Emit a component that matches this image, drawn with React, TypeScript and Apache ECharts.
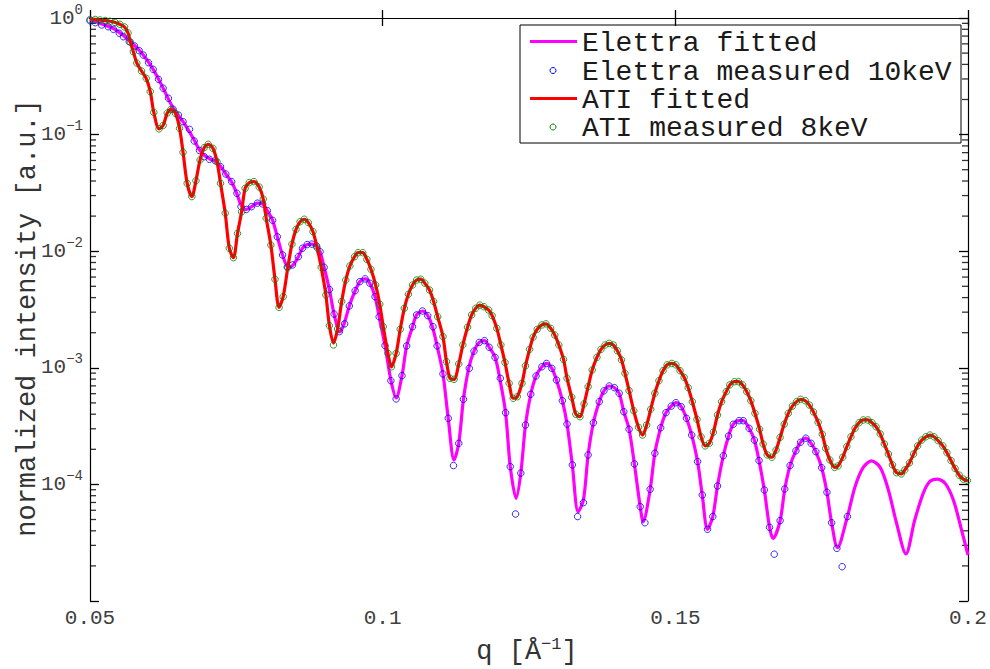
import React, { useEffect, useRef } from "react";
import * as echarts from "echarts";

const xTickValues = [0.05, 0.1, 0.15, 0.2];
const decadeExponents = [-5, -4, -3, -2, -1, 0];
const minorMantissas = [2, 3, 4, 5, 6, 7, 8, 9];
const legendLabels = ["Elettra fitted", "Elettra measured 10keV", "ATI fitted", "ATI measured 8keV"];
const yTitle = "normalized intensity [a.u.]";

const elettraFitted: number[][] = [
  [0.05, 0.971], [0.052, 0.888], [0.054, 0.813], [0.0557, 0.708], [0.0576, 0.582], [0.0591, 0.481], [0.0608, 0.363], [0.0625, 0.25], [0.0642, 0.169], [0.0659, 0.129],
  [0.0678, 0.0899], [0.0687, 0.0738], [0.0696, 0.0657], [0.0705, 0.0618], [0.0714, 0.0594], [0.0724, 0.0528], [0.0732, 0.0459], [0.0742, 0.0392], [0.0751, 0.031], [0.0758, 0.025],
  [0.0767, 0.0228], [0.0776, 0.0241], [0.0786, 0.0258], [0.0795, 0.0254], [0.0803, 0.0223], [0.0812, 0.0184], [0.082, 0.0133], [0.0829, 0.00928], [0.0839, 0.00725], [0.0847, 0.00762],
  [0.0856, 0.00897], [0.0863, 0.0106], [0.0871, 0.0114], [0.0879, 0.0115], [0.0887, 0.0111], [0.0893, 0.0099], [0.09, 0.00728], [0.0909, 0.0047], [0.0917, 0.00289], [0.0927, 0.00203],
  [0.0934, 0.00238], [0.0943, 0.00339], [0.0953, 0.00458], [0.0961, 0.00548], [0.097, 0.00579], [0.0978, 0.00532], [0.0987, 0.00407], [0.0994, 0.00274], [0.1004, 0.00155], [0.1014, 0.000785],
  [0.1023, 0.000551], [0.1033, 0.000856], [0.1041, 0.00154], [0.1051, 0.00225], [0.1058, 0.00284], [0.1068, 0.00307], [0.1077, 0.0028], [0.1085, 0.00225], [0.1093, 0.00154], [0.1103, 0.000886],
  [0.1112, 0.000369], [0.1122, 0.000162], [0.113, 0.000225], [0.1138, 0.000537], [0.1147, 0.00099], [0.1156, 0.00139], [0.1165, 0.00165], [0.1174, 0.00171], [0.1182, 0.0015], [0.1192, 0.00123],
  [0.12, 0.000813], [0.121, 0.000412], [0.1218, 0.000142], [0.1228, 0.000076], [0.1236, 0.000125], [0.1244, 0.000323], [0.1253, 0.000593], [0.1262, 0.00085], [0.1272, 0.00102], [0.128, 0.00109],
  [0.1289, 0.00099], [0.1297, 0.000785], [0.1307, 0.000522], [0.1315, 0.000329], [0.1324, 0.000147], [0.1334, 0.0000583], [0.1343, 0.0000735], [0.1351, 0.000179], [0.136, 0.000338], [0.137, 0.000512],
  [0.1378, 0.000634], [0.1387, 0.000698], [0.1396, 0.000675], [0.1404, 0.000605], [0.1412, 0.00042], [0.1421, 0.000297], [0.143, 0.00015], [0.144, 0.0000644], [0.1445, 0.0000478], [0.1457, 0.0000908],
  [0.1465, 0.000185], [0.1475, 0.000306], [0.1484, 0.000412], [0.1493, 0.000469], [0.1501, 0.000502], [0.151, 0.000464], [0.1519, 0.000369], [0.1528, 0.000265], [0.1538, 0.000157], [0.1546, 0.0000811],
  [0.1555, 0.0000412], [0.1564, 0.000053], [0.1572, 0.0000969], [0.1582, 0.000176], [0.1591, 0.00026], [0.1599, 0.000328], [0.1609, 0.000352], [0.1616, 0.000352], [0.1626, 0.000303], [0.1635, 0.00024],
  [0.1643, 0.00016], [0.1652, 0.0000896], [0.1661, 0.0000428], [0.1667, 0.0000344], [0.1679, 0.0000489], [0.1687, 0.0000913], [0.1696, 0.000145], [0.1706, 0.000194], [0.1714, 0.00023], [0.1723, 0.000249],
  [0.1732, 0.000225], [0.174, 0.000191], [0.175, 0.000139], [0.1759, 0.0000856], [0.1767, 0.0000469], [0.1777, 0.0000287], [0.1794, 0.000053], [0.1807, 0.0000955], [0.1821, 0.00014], [0.1835, 0.000159],
  [0.185, 0.00014], [0.1864, 0.0000896], [0.1878, 0.0000464], [0.1894, 0.0000253], [0.1909, 0.0000495], [0.1924, 0.0000849], [0.1935, 0.000106], [0.1948, 0.000111], [0.1961, 0.000102], [0.1975, 0.0000735],
  [0.1989, 0.0000406], [0.2, 0.0000248],
];

const elettraMeasured: number[][] = [
  [0.05, 0.948], [0.0509, 0.912], [0.052, 0.871], [0.0531, 0.842], [0.054, 0.8], [0.055, 0.74], [0.0557, 0.691], [0.0567, 0.627], [0.0576, 0.576], [0.0584, 0.525],
  [0.0591, 0.481], [0.06, 0.414], [0.0608, 0.363], [0.0617, 0.298], [0.0625, 0.25], [0.0634, 0.205], [0.0642, 0.165], [0.0651, 0.147], [0.0659, 0.129], [0.067, 0.111],
  [0.0678, 0.0882], [0.0687, 0.0731], [0.0695, 0.0647], [0.0704, 0.0614], [0.0714, 0.0597], [0.0723, 0.0531], [0.0732, 0.0459], [0.0742, 0.0395], [0.0751, 0.0314], [0.0758, 0.0241],
  [0.0767, 0.0228], [0.0776, 0.0241], [0.0786, 0.0258], [0.0795, 0.0254], [0.0803, 0.0223], [0.0812, 0.0184], [0.082, 0.0133], [0.0829, 0.00928], [0.0837, 0.00728], [0.0846, 0.00762],
  [0.0856, 0.00897], [0.0863, 0.0106], [0.0871, 0.0114], [0.0879, 0.0115], [0.0887, 0.0111], [0.0893, 0.0099], [0.09, 0.00728], [0.0909, 0.0047], [0.0917, 0.00289], [0.0926, 0.00204],
  [0.0935, 0.00238], [0.0943, 0.00339], [0.0953, 0.00458], [0.0961, 0.00548], [0.097, 0.00579], [0.0978, 0.00532], [0.0987, 0.00407], [0.0994, 0.00274], [0.1004, 0.00155], [0.1014, 0.000775],
  [0.1023, 0.000541], [0.1033, 0.000856], [0.1041, 0.00154], [0.1051, 0.00225], [0.1058, 0.00284], [0.1068, 0.00307], [0.1077, 0.0028], [0.1086, 0.00225], [0.1093, 0.00154], [0.1103, 0.000886],
  [0.1112, 0.000369], [0.1121, 0.000145], [0.113, 0.000225], [0.1138, 0.000537], [0.1148, 0.00099], [0.1156, 0.00139], [0.1165, 0.00165], [0.1174, 0.00171], [0.1182, 0.0015], [0.1192, 0.00123],
  [0.1201, 0.000813], [0.121, 0.000412], [0.1218, 0.000142], [0.1227, 0.0000557], [0.1236, 0.000125], [0.1244, 0.000323], [0.1253, 0.000593], [0.1262, 0.00085], [0.1272, 0.00102], [0.128, 0.00109],
  [0.1289, 0.00099], [0.1297, 0.000785], [0.1307, 0.000522], [0.1315, 0.000329], [0.1324, 0.000147], [0.1333, 0.000053], [0.1343, 0.0000697], [0.1351, 0.000179], [0.136, 0.000338], [0.137, 0.000512],
  [0.1378, 0.000634], [0.1387, 0.000698], [0.1396, 0.000675], [0.1404, 0.000605], [0.1412, 0.00042], [0.1421, 0.000297], [0.143, 0.00015], [0.144, 0.0000644], [0.1448, 0.0000469], [0.1457, 0.0000908],
  [0.1465, 0.000185], [0.1475, 0.000306], [0.1484, 0.000412], [0.1493, 0.000469], [0.1501, 0.000502], [0.151, 0.000464], [0.1519, 0.000369], [0.1528, 0.000265], [0.1538, 0.000157], [0.1546, 0.0000811],
  [0.1555, 0.0000412], [0.1564, 0.000053], [0.1572, 0.0000969], [0.1582, 0.000176], [0.1591, 0.00026], [0.1599, 0.000328], [0.1609, 0.000352], [0.1616, 0.000352], [0.1626, 0.000303], [0.1635, 0.00024],
  [0.1643, 0.00016], [0.1652, 0.0000896], [0.1661, 0.0000428], [0.1669, 0.0000252], [0.1679, 0.0000489], [0.1687, 0.0000913], [0.1696, 0.000145], [0.1706, 0.000194], [0.1714, 0.00023], [0.1723, 0.000249],
  [0.1732, 0.000225], [0.174, 0.000191], [0.175, 0.000139], [0.1759, 0.0000856], [0.1767, 0.0000469], [0.1776, 0.0000283], [0.1785, 0.0000197], [0.1794, 0.000053],
];

const atiFitted: number[][] = [
  [0.05, 0.985], [0.0517, 0.961], [0.0534, 0.937], [0.0543, 0.915], [0.0551, 0.883], [0.0559, 0.837], [0.0565, 0.744], [0.0569, 0.623], [0.0574, 0.514], [0.058, 0.411],
  [0.0588, 0.351], [0.0596, 0.304], [0.0603, 0.234], [0.0609, 0.155], [0.0618, 0.112], [0.0625, 0.12], [0.0632, 0.153], [0.0638, 0.164], [0.0646, 0.152], [0.0653, 0.113],
  [0.0659, 0.0705], [0.0666, 0.0382], [0.0674, 0.0294], [0.0681, 0.0402], [0.0688, 0.0606], [0.0695, 0.0772], [0.0702, 0.0826], [0.071, 0.0763], [0.0717, 0.0586], [0.0723, 0.0382],
  [0.0731, 0.0212], [0.0738, 0.0106], [0.0745, 0.0088], [0.0752, 0.0142], [0.0759, 0.0218], [0.0765, 0.0346], [0.0772, 0.0387], [0.078, 0.0395], [0.0789, 0.0355], [0.0796, 0.028],
  [0.0801, 0.0192], [0.0809, 0.0113], [0.0816, 0.00575], [0.0823, 0.0033], [0.083, 0.00407], [0.0838, 0.00728], [0.0845, 0.0115], [0.0852, 0.0154], [0.0859, 0.0179], [0.0866, 0.0188],
  [0.0873, 0.0176], [0.0881, 0.0147], [0.0888, 0.0107], [0.0895, 0.00728], [0.0903, 0.00421], [0.0909, 0.0023], [0.0916, 0.00163], [0.0923, 0.00215], [0.093, 0.00371], [0.0937, 0.00566],
  [0.0944, 0.00747], [0.0952, 0.00897], [0.0958, 0.00971], [0.0966, 0.00971], [0.0973, 0.00852], [0.098, 0.007], [0.0988, 0.00513], [0.0995, 0.00351], [0.1001, 0.00225], [0.1009, 0.00133],
  [0.1015, 0.00102], [0.1023, 0.00133], [0.103, 0.00214], [0.1037, 0.00324], [0.1044, 0.00427], [0.1051, 0.00513], [0.1058, 0.00566], [0.1065, 0.00575], [0.1072, 0.00532], [0.108, 0.00465],
  [0.1087, 0.00371], [0.1094, 0.00274], [0.1103, 0.00185], [0.1109, 0.00113], [0.1115, 0.000813], [0.1122, 0.000797], [0.113, 0.00108], [0.1137, 0.00157], [0.1145, 0.00223], [0.1152, 0.00284],
  [0.1159, 0.00324], [0.1166, 0.00345], [0.1173, 0.00334], [0.1181, 0.00313], [0.1187, 0.0028], [0.1195, 0.00218], [0.1202, 0.00157], [0.1209, 0.00111], [0.1216, 0.000737], [0.1223, 0.000548],
  [0.123, 0.000565], [0.1238, 0.000737], [0.1244, 0.00104], [0.1251, 0.00144], [0.1257, 0.00183], [0.1264, 0.00214], [0.1272, 0.00233], [0.1279, 0.00238], [0.1287, 0.00218], [0.1294, 0.00191],
  [0.1301, 0.00157], [0.1309, 0.00118], [0.1315, 0.000813], [0.1323, 0.000559], [0.133, 0.0004], [0.1337, 0.000381], [0.1344, 0.00049], [0.1351, 0.000689], [0.1358, 0.000957], [0.1366, 0.00123],
  [0.1373, 0.00144], [0.138, 0.00157], [0.1387, 0.00162], [0.1394, 0.00157], [0.1401, 0.0014], [0.1408, 0.00117], [0.1414, 0.000897], [0.1421, 0.000637], [0.1429, 0.000428], [0.1437, 0.000309],
  [0.1444, 0.000265], [0.1451, 0.000323], [0.1458, 0.000441], [0.1465, 0.000605], [0.1472, 0.000775], [0.1479, 0.000944], [0.1486, 0.00106], [0.1494, 0.00109], [0.1501, 0.00106], [0.1508, 0.000944],
  [0.1515, 0.000829], [0.1522, 0.000675], [0.1529, 0.000512], [0.1537, 0.000362], [0.1544, 0.000256], [0.1551, 0.000214], [0.1558, 0.000225], [0.1565, 0.00028], [0.1572, 0.000394], [0.1579, 0.000512],
  [0.1587, 0.000624], [0.1593, 0.000713], [0.1601, 0.00076], [0.1608, 0.00076], [0.1615, 0.000713], [0.1622, 0.000624], [0.1629, 0.000522], [0.1636, 0.000407], [0.1644, 0.000297], [0.165, 0.000222],
  [0.1657, 0.000179], [0.1665, 0.000171], [0.1672, 0.000197], [0.1679, 0.000253], [0.1686, 0.000329], [0.1693, 0.000407], [0.17, 0.000469], [0.1707, 0.000512], [0.1714, 0.000537], [0.1722, 0.000522],
  [0.1729, 0.000479], [0.1736, 0.000418], [0.1744, 0.000341], [0.1751, 0.000269], [0.1757, 0.000204], [0.1764, 0.000162], [0.1772, 0.00014], [0.1778, 0.000144], [0.1786, 0.000171], [0.1793, 0.000211],
  [0.18, 0.000256], [0.1807, 0.000303], [0.1814, 0.000338], [0.1821, 0.000357], [0.1829, 0.000357], [0.1836, 0.000338], [0.1843, 0.000312], [0.185, 0.000271], [0.1857, 0.000222], [0.1864, 0.000182],
  [0.1871, 0.000147], [0.1878, 0.000126], [0.1886, 0.000123], [0.1892, 0.000133], [0.19, 0.000153], [0.1907, 0.000182], [0.1914, 0.000214], [0.1921, 0.00024], [0.1928, 0.000256], [0.1935, 0.000265],
  [0.1942, 0.000256], [0.1949, 0.000237], [0.1957, 0.000214], [0.1964, 0.000187], [0.1971, 0.00016], [0.1978, 0.000137], [0.1985, 0.00012], [0.1992, 0.000111], [0.2, 0.000107],
];

const atiMeasured: number[][] = [
  [0.05, 0.971], [0.0509, 0.971], [0.0517, 0.961], [0.0526, 0.952], [0.0534, 0.937], [0.0543, 0.915], [0.0551, 0.883], [0.0559, 0.837], [0.0565, 0.744], [0.0569, 0.623],
  [0.0574, 0.514], [0.058, 0.411], [0.0588, 0.351], [0.0596, 0.304], [0.0603, 0.234], [0.0609, 0.155], [0.0618, 0.112], [0.0625, 0.12], [0.0632, 0.153], [0.0638, 0.164],
  [0.0646, 0.152], [0.0653, 0.113], [0.0659, 0.0705], [0.0666, 0.0382], [0.0674, 0.0294], [0.0681, 0.0402], [0.0688, 0.0606], [0.0695, 0.0772], [0.0702, 0.0826], [0.071, 0.0763],
  [0.0717, 0.0586], [0.0723, 0.0382], [0.0731, 0.0212], [0.0738, 0.0106], [0.0745, 0.0088], [0.0752, 0.0142], [0.0759, 0.0218], [0.0765, 0.0346], [0.0772, 0.0387], [0.078, 0.0395],
  [0.0789, 0.0355], [0.0796, 0.028], [0.0801, 0.0192], [0.0809, 0.0113], [0.0816, 0.00575], [0.0823, 0.0033], [0.083, 0.00407], [0.0838, 0.00728], [0.0845, 0.0115], [0.0852, 0.0154],
  [0.0859, 0.0179], [0.0866, 0.0188], [0.0873, 0.0176], [0.0881, 0.0147], [0.0888, 0.0107], [0.0895, 0.00728], [0.0903, 0.00421], [0.0909, 0.0023], [0.0916, 0.00157], [0.0923, 0.00215],
  [0.093, 0.00371], [0.0937, 0.00566], [0.0944, 0.00747], [0.0952, 0.00897], [0.0958, 0.00971], [0.0966, 0.00971], [0.0973, 0.00852], [0.098, 0.007], [0.0988, 0.00513], [0.0995, 0.00351],
  [0.1001, 0.00225], [0.1009, 0.00133], [0.1015, 0.00102], [0.1023, 0.00133], [0.103, 0.00214], [0.1037, 0.00324], [0.1044, 0.00427], [0.1051, 0.00513], [0.1058, 0.00566], [0.1065, 0.00575],
  [0.1072, 0.00532], [0.108, 0.00465], [0.1087, 0.00371], [0.1094, 0.00274], [0.1103, 0.00185], [0.1109, 0.00113], [0.1115, 0.000813], [0.1122, 0.000797], [0.113, 0.00108], [0.1137, 0.00157],
  [0.1145, 0.00223], [0.1152, 0.00284], [0.1159, 0.00324], [0.1166, 0.00345], [0.1173, 0.00334], [0.1181, 0.00313], [0.1187, 0.0028], [0.1195, 0.00218], [0.1202, 0.00157], [0.1209, 0.00111],
  [0.1216, 0.000737], [0.1223, 0.000548], [0.123, 0.000565], [0.1238, 0.000737], [0.1244, 0.00104], [0.1251, 0.00144], [0.1257, 0.00183], [0.1264, 0.00214], [0.1272, 0.00233], [0.1279, 0.00238],
  [0.1287, 0.00218], [0.1294, 0.00191], [0.1301, 0.00157], [0.1309, 0.00118], [0.1315, 0.000813], [0.1323, 0.000559], [0.133, 0.0004], [0.1337, 0.000381], [0.1344, 0.00049], [0.1351, 0.000689],
  [0.1358, 0.000957], [0.1366, 0.00123], [0.1373, 0.00144], [0.138, 0.00157], [0.1387, 0.00162], [0.1394, 0.00157], [0.1401, 0.0014], [0.1408, 0.00117], [0.1414, 0.000897], [0.1421, 0.000637],
  [0.1429, 0.000428], [0.1437, 0.000309], [0.1444, 0.000265], [0.1451, 0.000323], [0.1458, 0.000441], [0.1465, 0.000605], [0.1472, 0.000775], [0.1479, 0.000944], [0.1486, 0.00106], [0.1494, 0.00109],
  [0.1501, 0.00106], [0.1508, 0.000944], [0.1515, 0.000829], [0.1522, 0.000675], [0.1529, 0.000512], [0.1537, 0.000362], [0.1544, 0.000256], [0.1551, 0.000214], [0.1558, 0.000225], [0.1565, 0.00028],
  [0.1572, 0.000394], [0.1579, 0.000512], [0.1587, 0.000624], [0.1593, 0.000713], [0.1601, 0.00076], [0.1608, 0.00076], [0.1615, 0.000713], [0.1622, 0.000624], [0.1629, 0.000522], [0.1636, 0.000407],
  [0.1644, 0.000297], [0.165, 0.000222], [0.1657, 0.000179], [0.1665, 0.000171], [0.1672, 0.000197], [0.1679, 0.000253], [0.1686, 0.000329], [0.1693, 0.000407], [0.17, 0.000469], [0.1707, 0.000512],
  [0.1714, 0.000537], [0.1722, 0.000522], [0.1729, 0.000479], [0.1736, 0.000418], [0.1744, 0.000341], [0.1751, 0.000269], [0.1757, 0.000204], [0.1764, 0.000162], [0.1772, 0.00014], [0.1778, 0.000144],
  [0.1786, 0.000171], [0.1793, 0.000211], [0.18, 0.000256], [0.1807, 0.000303], [0.1814, 0.000338], [0.1821, 0.000357], [0.1829, 0.000357], [0.1836, 0.000338], [0.1843, 0.000312], [0.185, 0.000271],
  [0.1857, 0.000222], [0.1864, 0.000182], [0.1871, 0.000147], [0.1878, 0.000126], [0.1886, 0.000123], [0.1892, 0.000133], [0.19, 0.000153], [0.1907, 0.000182], [0.1914, 0.000214], [0.1921, 0.00024],
  [0.1928, 0.000256], [0.1935, 0.000265], [0.1942, 0.000256], [0.1949, 0.000237], [0.1957, 0.000214], [0.1964, 0.000187], [0.1971, 0.00016], [0.1978, 0.000137], [0.1985, 0.00012], [0.1992, 0.000111],
  [0.1999, 0.000108],
];

const FONT = "'Liberation Mono', 'Courier New', monospace";
const TICK_COLOR = "#404040";

export default function App() {
  const ref = useRef<HTMLDivElement>(null);

  useEffect(() => {
    if (!ref.current) return;
    const chart = echarts.init(ref.current, null, { renderer: "svg" });

    const minorValues: number[] = [];
    decadeExponents.slice(0, -1).forEach((e) => {
      minorMantissas.forEach((m) => minorValues.push(m * Math.pow(10, e)));
    });
    const xMin = xTickValues[0];
    const xMax = xTickValues[xTickValues.length - 1];

    const minorTickSeries = (xEdge: number, offset: number) => ({
      type: "scatter",
      xAxisIndex: 0,
      yAxisIndex: 0,
      silent: true,
      clip: false,
      z: 1,
      symbol: "rect",
      symbolSize: [6, 1.3],
      symbolOffset: [offset, 0],
      itemStyle: { color: "#000" },
      data: minorValues.map((v) => [xEdge, v]),
      tooltip: { show: false },
    });

    const majorTickAxis = (position: "left" | "right", showLabels: boolean) => ({
      type: "value",
      position,
      min: decadeExponents[0],
      max: decadeExponents[decadeExponents.length - 1],
      interval: 1,
      axisLine: { show: true, lineStyle: { color: "#000", width: 1.2 } },
      axisTick: { show: true, inside: true, length: 9, lineStyle: { color: "#000", width: 1.3 } },
      axisLabel: {
        show: showLabels,
        margin: 7,
        formatter: (v: number) => {
          if (v === decadeExponents[0]) return "";
          const exp = v === 0 ? "0" : "−" + String(Math.abs(v));
          return "{b|10}{s|" + exp + "}";
        },
        rich: {
          b: { fontFamily: FONT, fontSize: 21, color: TICK_COLOR },
          s: { fontFamily: FONT, fontSize: 14, color: TICK_COLOR, padding: [0, 0, 17, 0] },
        },
      },
      splitLine: { show: false },
    });

    const xAxisBase = (position: "top" | "bottom", showLabels: boolean) => ({
      type: "value",
      position,
      min: xMin,
      max: xMax,
      interval: 0.05,
      axisLine: { show: true, lineStyle: { color: "#000", width: 1.2 } },
      axisTick: { show: true, inside: true, length: 8, lineStyle: { color: "#000", width: 1.3 } },
      axisLabel: {
        show: showLabels,
        margin: 7,
        fontFamily: FONT,
        fontSize: 21,
        color: TICK_COLOR,
        formatter: (v: number) => String(Math.round(v * 1000) / 1000),
      },
      splitLine: { show: false },
    });

    const rowY = [41.5, 70.5, 98.5, 127];
    const legendColors = ["#ff00ff", "#0000ff", "#ff0000", "#008000"];
    const legendChildren: any[] = [
      {
        type: "rect",
        shape: { x: 520, y: 25, width: 441, height: 118 },
        style: { fill: "#fff", stroke: "#000", lineWidth: 1 },
      },
    ];
    legendLabels.forEach((label, i) => {
      const isLine = i % 2 === 0;
      if (isLine) {
        legendChildren.push({
          type: "line",
          shape: { x1: 530, y1: rowY[i], x2: 577, y2: rowY[i] },
          style: { stroke: legendColors[i], lineWidth: 3 },
        });
      } else {
        legendChildren.push({
          type: "circle",
          shape: { cx: 553, cy: rowY[i], r: 3 },
          style: { fill: "none", stroke: legendColors[i], lineWidth: 1 },
        });
      }
      legendChildren.push({
        type: "text",
        x: 582,
        y: rowY[i] + 1.5,
        style: {
          text: label,
          fill: "#1a1a1a",
          fontFamily: FONT,
          fontSize: 28,
          align: "left",
          verticalAlign: "middle",
        },
      });
    });

    const option: any = {
      animation: false,
      backgroundColor: "#fff",
      grid: { left: 90, top: 18, right: 22, bottom: 68, containLabel: false },
      xAxis: [xAxisBase("bottom", true), xAxisBase("top", false)],
      yAxis: [
        { type: "log", logBase: 10, min: 1e-5, max: 1, show: false },
        majorTickAxis("left", true),
        majorTickAxis("right", false),
      ],
      graphic: [
        {
          type: "text",
          x: 28,
          y: 318,
          rotation: Math.PI / 2,
          style: {
            text: yTitle,
            fill: "#333",
            fontFamily: FONT,
            fontSize: 27,
            align: "center",
            verticalAlign: "middle",
          },
        },
        {
          type: "text",
          x: 527,
          y: 652,
          style: {
            text: "{a|q [Å}{s|−1}{a|]}",
            fill: "#333",
            fontFamily: FONT,
            fontSize: 27,
            align: "center",
            verticalAlign: "middle",
            rich: {
              a: { fontFamily: FONT, fontSize: 27, fill: "#333" },
              s: { fontFamily: FONT, fontSize: 17, fill: "#333", padding: [0, 0, 16, 0] },
            },
          },
        },
        { type: "group", z: 100, children: legendChildren },
      ],
      series: [
        minorTickSeries(xMin, 3),
        minorTickSeries(xMax, -3),
        {
          name: legendLabels[0],
          type: "line",
          xAxisIndex: 0,
          yAxisIndex: 0,
          data: elettraFitted,
          symbol: "none",
          showSymbol: false,
          smooth: 0.3,
          lineStyle: { color: "#ff00ff", width: 3.2 },
          z: 2,
        },
        {
          name: legendLabels[1],
          type: "scatter",
          xAxisIndex: 0,
          yAxisIndex: 0,
          data: elettraMeasured,
          symbol: "circle",
          symbolSize: 6.5,
          itemStyle: { color: "rgba(0,0,0,0)", borderColor: "#0000ff", borderWidth: 1 },
          z: 3,
        },
        {
          name: legendLabels[2],
          type: "line",
          xAxisIndex: 0,
          yAxisIndex: 0,
          data: atiFitted,
          symbol: "none",
          showSymbol: false,
          smooth: 0.3,
          lineStyle: { color: "#ff0000", width: 3.2 },
          z: 4,
        },
        {
          name: legendLabels[3],
          type: "scatter",
          xAxisIndex: 0,
          yAxisIndex: 0,
          data: atiMeasured,
          symbol: "circle",
          symbolSize: 6.5,
          itemStyle: { color: "rgba(0,0,0,0)", borderColor: "#008000", borderWidth: 1 },
          z: 5,
        },
      ],
    };

    chart.setOption(option);
    return () => chart.dispose();
  }, []);

  return (
    <div
      ref={ref}
      style={{ position: "fixed", left: 0, top: 0, width: 990, height: 669, background: "#fff" }}
    />
  );
}
